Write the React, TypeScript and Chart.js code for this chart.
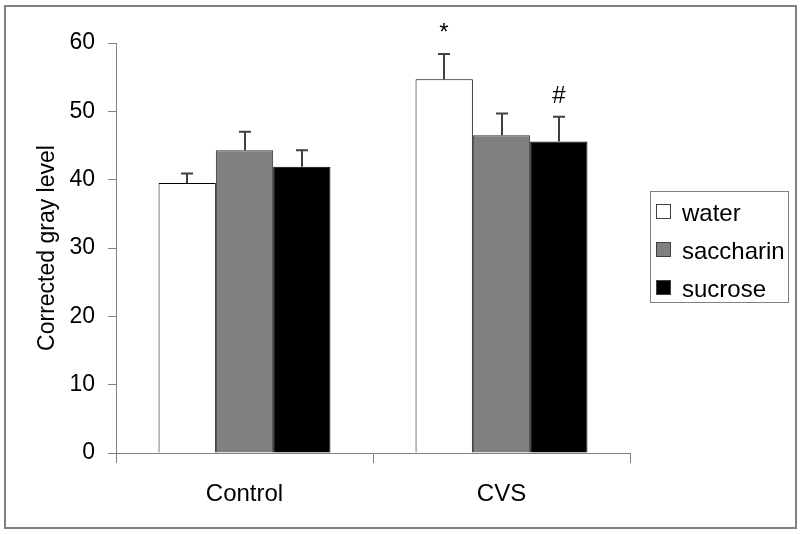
import React, { useEffect, useRef } from "react";
import { Chart, registerables } from "chart.js";

Chart.register(...registerables);

const categories = ["Control", "CVS"];
const seriesNames = ["water", "saccharin", "sucrose"];
const waterValues = [39.5, 54.7];
const saccharinValues = [44.3, 46.5];
const sucroseValues = [41.9, 45.6];
const waterErr = [1.4, 3.7];
const saccharinErr = [2.7, 3.2];
const sucroseErr = [2.4, 3.6];
const waterMarks = ["", "*"];
const saccharinMarks = ["", ""];
const sucroseMarks = ["", "#"];
const yTicks = [0, 10, 20, 30, 40, 50, 60];
const yTitle = "Corrected gray level";

const FONT = "'Liberation Sans', Arial, Helvetica, sans-serif";
const fills = ["#ffffff", "#808080", "#000000"];
const borders = ["#000000", "#303030", "#000000"];

export default function App() {
  const ref = useRef<HTMLCanvasElement | null>(null);

  useEffect(() => {
    if (!ref.current) return;
    const errs = [waterErr, saccharinErr, sucroseErr];
    const marks = [waterMarks, saccharinMarks, sucroseMarks];
    const values = [waterValues, saccharinValues, sucroseValues];

    const bgPlugin = {
      id: "bg",
      beforeDraw(chart: any) {
        const { ctx } = chart;
        ctx.save();
        ctx.fillStyle = "#ffffff";
        ctx.fillRect(0, 0, chart.width, chart.height);
        ctx.restore();
      },
      afterDraw(chart: any) {
        const { ctx } = chart;
        ctx.save();
        // outer frame
        ctx.strokeStyle = "#808080";
        ctx.lineWidth = 2;
        ctx.strokeRect(5, 6, 791, 522);
        // legend
        ctx.lineWidth = 1;
        ctx.strokeStyle = "#808080";
        ctx.strokeRect(650.5, 191.5, 138, 111);
        ctx.font = `24px ${FONT}`;
        ctx.textAlign = "left";
        ctx.textBaseline = "alphabetic";
        seriesNames.forEach((name, i) => {
          const base = 221 + i * 38;
          const top = base - 17;
          ctx.fillStyle = fills[i];
          ctx.fillRect(656, top, 15, 15);
          ctx.strokeStyle = "#404040";
          ctx.strokeRect(656.5, top + 0.5, 14, 14);
          ctx.fillStyle = "#000000";
          ctx.fillText(name, 682, base);
        });
        ctx.restore();
      },
    };

    const errPlugin = {
      id: "errbars",
      afterDatasetsDraw(chart: any) {
        const { ctx } = chart;
        const yScale = chart.scales.y;
        ctx.save();
        chart.data.datasets.forEach((ds: any, i: number) => {
          const meta = chart.getDatasetMeta(i);
          meta.data.forEach((el: any, j: number) => {
            const v = values[i][j];
            const e = errs[i][j];
            const yTop = yScale.getPixelForValue(v);
            const yCap = yScale.getPixelForValue(v + e);
            const x = Math.round(el.x);
            ctx.strokeStyle = "#404040";
            ctx.lineWidth = 2;
            ctx.beginPath();
            ctx.moveTo(x, yTop);
            ctx.lineTo(x, yCap);
            ctx.moveTo(x - 6, yCap);
            ctx.lineTo(x + 6, yCap);
            ctx.stroke();
            const m = marks[i][j];
            if (m) {
              ctx.fillStyle = "#000000";
              ctx.font = `24px ${FONT}`;
              ctx.textAlign = "center";
              ctx.textBaseline = "alphabetic";
              ctx.fillText(m, x, yCap - 14);
            }
          });
        });
        ctx.restore();
      },
    };

    const chart = new Chart(ref.current, {
      type: "bar",
      data: {
        labels: categories,
        datasets: [
          {
            label: seriesNames[0],
            data: waterValues,
            backgroundColor: fills[0],
            borderColor: borders[0],
            borderWidth: 1,
          },
          {
            label: seriesNames[1],
            data: saccharinValues,
            backgroundColor: fills[1],
            borderColor: borders[1],
            borderWidth: 1,
          },
          {
            label: seriesNames[2],
            data: sucroseValues,
            backgroundColor: fills[2],
            borderColor: borders[2],
            borderWidth: 1,
          },
        ],
      },
      options: {
        responsive: false,
        animation: false,
        devicePixelRatio: 1,
        layout: { padding: { left: 0, top: 43, right: 170, bottom: 0 } },
        datasets: {
          bar: { categoryPercentage: 0.669, barPercentage: 1 },
        } as any,
        plugins: {
          legend: { display: false },
          tooltip: { enabled: false },
        },
        scales: {
          x: {
            grid: {
              offset: true,
              drawOnChartArea: false,
              drawTicks: true,
              tickLength: 10,
              color: "#808080",
            },
            border: { display: true, color: "#808080", width: 1 },
            ticks: {
              color: "#000000",
              font: { family: FONT, size: 24 },
              padding: 17,
            },
            afterFit(scale: any) {
              scale.height = 81;
            },
          },
          y: {
            min: 0,
            max: 60,
            afterBuildTicks(scale: any) {
              scale.ticks = yTicks.map((v) => ({ value: v }));
            },
            grid: {
              drawOnChartArea: false,
              drawTicks: true,
              tickLength: 8,
              color: "#808080",
            },
            border: { display: true, color: "#808080", width: 1 },
            ticks: {
              color: "#000000",
              font: { family: FONT, size: 23 },
              padding: 13,
            },
            title: {
              display: true,
              text: yTitle,
              color: "#000000",
              font: { family: FONT, size: 23 },
              padding: { top: 34, bottom: 0 },
            },
            afterFit(scale: any) {
              scale.width = 116;
            },
          },
        },
      },
      plugins: [bgPlugin, errPlugin],
    });
    return () => chart.destroy();
  }, []);

  return (
    <div style={{ position: "absolute", left: 0, top: 0, width: 800, height: 534 }}>
      <canvas ref={ref} width={800} height={534} />
    </div>
  );
}
